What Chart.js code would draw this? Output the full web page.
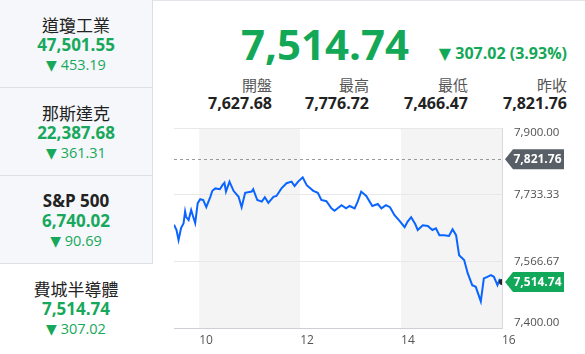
<!DOCTYPE html>
<html>
<head>
<meta charset="utf-8">
<script src="https://cdn.jsdelivr.net/npm/chart.js@4.4.0/dist/chart.umd.min.js"></script>
<style>
  html, body { margin:0; padding:0; background:#fff; }
  body { width:585px; height:354px; position:relative; overflow:hidden;
         font-family:'Open Sans','Noto Sans CJK TC',sans-serif; }
  .topline { position:absolute; left:0; top:0; width:585px; height:1px; background:#e3e5ea; }
  .box { position:absolute; left:0; width:153px; height:88px; background:#f5f7fa;
         border-right:1px solid #dcdfe5; border-bottom:1px solid #dcdfe5; box-sizing:border-box; }
  .box.sel { background:#fff; border:none; width:153px; }
  .box div { position:absolute; left:0; width:152px; text-align:center; white-space:nowrap; }
  .t { top:13px; height:24px; line-height:24px; font-size:17px; color:#222;
       font-family:'Noto Sans CJK TC','Open Sans',sans-serif; }
  .t.lat { font-family:'Open Sans',sans-serif; font-weight:700; font-size:17px; }
  .v { top:34px; height:22px; line-height:22px; font-size:17px; font-weight:700; color:#17a85c; }
  .c { top:55px; height:20px; line-height:20px; font-size:14.5px; color:#17a85c; }
  .tri { font-family:'DejaVu Sans',sans-serif; font-size:14px; }
  .big { position:absolute; left:220px; width:210px; text-align:center; top:22px; height:44px; line-height:44px;
         font-size:42px; font-weight:700; color:#13a858; }
  .chg { position:absolute; right:18px; top:44px; height:18px; line-height:18px;
         font-size:16px; font-weight:700; color:#13a858; white-space:nowrap; }
  .lab { position:absolute; top:77px; height:16px; line-height:16px; font-size:15px; color:#555;
         font-family:'Noto Sans CJK TC',sans-serif; text-align:right; width:90px; }
  .val { position:absolute; top:94px; height:18px; line-height:18px; font-size:16px; font-weight:700; color:#222;
         text-align:right; width:90px; }
  #wrap { position:absolute; left:170px; top:120px; width:415px; height:234px; }
</style>
</head>
<body>
<div class="topline"></div>
<div id="panel"></div>
<div class="big" id="big"></div>
<div class="chg" id="chg"></div>
<div id="stats"></div>
<div id="wrap"><canvas id="c" width="415" height="234"></canvas></div>
<script>
// ---- data ----
const indexNames = ['道瓊工業', '那斯達克', 'S&P 500', '費城半導體'];
const indexValues = ['47,501.55', '22,387.68', '6,740.02', '7,514.74'];
const indexChanges = ['453.19', '361.31', '90.69', '307.02'];

const lastText = '7,514.74';
const changeText = '307.02 (3.93%)';
const statLabels = ['開盤', '最高', '最低', '昨收'];
const statValues = ['7,627.68', '7,776.72', '7,466.47', '7,821.76'];

const times = [9.50, 9.55, 9.59, 9.64, 9.69, 9.72, 9.74, 9.79, 9.84, 9.88, 9.92, 9.97, 10.02, 10.08, 10.14, 10.22,
  10.26, 10.32, 10.41, 10.46, 10.50, 10.53, 10.60, 10.68, 10.78, 10.84, 10.91, 11.04, 11.07, 11.15, 11.24,
  11.30, 11.37, 11.47, 11.53, 11.63, 11.73, 11.83, 11.89, 11.96, 12.05, 12.13, 12.26, 12.35, 12.42, 12.52,
  12.62, 12.68, 12.82, 12.91, 12.98, 13.08, 13.14, 13.21, 13.31, 13.43, 13.54, 13.61, 13.70, 13.78, 13.87,
  13.97, 14.07, 14.13, 14.20, 14.28, 14.33, 14.43, 14.53, 14.62, 14.69, 14.76, 14.85, 14.95, 15.02, 15.09,
  15.15, 15.25, 15.32, 15.41, 15.48, 15.58, 15.64, 15.71, 15.78, 15.84, 15.91, 15.95, 16.00];
const values = [7658, 7645, 7620, 7650, 7662, 7691, 7678, 7670, 7695, 7678, 7662, 7712, 7722, 7720, 7702, 7728,
  7743, 7749, 7747, 7757, 7763, 7741, 7766, 7743, 7728, 7702, 7738, 7741, 7747, 7720, 7716,
  7727, 7713, 7728, 7730, 7749, 7762, 7766, 7755, 7766, 7776.72, 7757, 7743, 7738, 7720, 7717,
  7699, 7693, 7707, 7699, 7705, 7699, 7716, 7741, 7730, 7705, 7710, 7699, 7707, 7702, 7682,
  7668, 7652, 7666, 7677, 7660, 7645, 7657, 7655, 7645, 7649, 7632, 7632, 7630, 7647, 7632,
  7582, 7570, 7537, 7507, 7503, 7466.47, 7524, 7528, 7532, 7528, 7507, 7520, 7514.74];

const prevClose = 7821.76;
const lastValue = 7514.74;
const yTickValues = [7400, 7566.67, 7733.33, 7900];
const yTickLabels = ['7,400.00', '7,566.67', '7,733.33', '7,900.00'];
const xTickValues = [10, 12, 14, 16];
const shadedRanges = [[10, 12], [14, 16]];

// ---- page text ----
const panel = document.getElementById('panel');
indexNames.forEach((n, i) => {
  const b = document.createElement('div');
  b.className = 'box' + (i === 3 ? ' sel' : '');
  b.style.top = (i * 88) + 'px';
  const isLat = /^[A-Za-z]/.test(n);
  b.innerHTML = '<div class="t' + (isLat ? ' lat' : '') + '">' + n.replace('&', '&amp;') + '</div>' +
    '<div class="v">' + indexValues[i] + '</div>' +
    '<div class="c"><span class="tri">▼</span> ' + indexChanges[i] + '</div>';
  panel.appendChild(b);
});
document.getElementById('big').textContent = lastText;
document.getElementById('chg').innerHTML = '<span class="tri" style="font-size:16px">▼</span> ' + changeText;
const statRight = [272, 369, 468, 567];
const stats = document.getElementById('stats');
statLabels.forEach((l, i) => {
  const a = document.createElement('div');
  a.className = 'lab'; a.textContent = l; a.style.left = (statRight[i] - 90) + 'px';
  const v = document.createElement('div');
  v.className = 'val'; v.textContent = statValues[i]; v.style.left = (statRight[i] - 90) + 'px';
  stats.appendChild(a); stats.appendChild(v);
});

// ---- chart ----
Chart.defaults.font.family = "'Open Sans', sans-serif";
const fmt = v => v.toLocaleString('en-US', {minimumFractionDigits: 2, maximumFractionDigits: 2});

const bandPlugin = {
  id: 'bands',
  beforeDraw(chart) {
    const {ctx, chartArea: a, scales: {x}} = chart;
    ctx.save();
    ctx.fillStyle = '#f4f4f4';
    shadedRanges.forEach(([s, e]) => {
      const x0 = x.getPixelForValue(s), x1 = x.getPixelForValue(e);
      ctx.fillRect(x0, a.top, x1 - x0, a.bottom - a.top);
    });
    ctx.restore();
  },
  beforeDatasetsDraw(chart) {
    const {ctx, chartArea: a, scales: {y}} = chart;
    const py = Math.round(y.getPixelForValue(prevClose)) + 0.5;
    ctx.save();
    ctx.strokeStyle = '#9a9a9a';
    ctx.lineWidth = 1;
    ctx.setLineDash([3, 3]);
    ctx.beginPath(); ctx.moveTo(a.left, py); ctx.lineTo(a.right, py); ctx.stroke();
    ctx.restore();
  },
  afterDraw(chart) {
    const {ctx, chartArea: a, scales: {y}} = chart;
    const tag = (val, color) => {
      const cy = y.getPixelForValue(val);
      const tip = a.right + 3, bx = a.right + 11, bw = 51, h = 20;
      ctx.save();
      ctx.fillStyle = color;
      ctx.beginPath();
      ctx.moveTo(tip, cy);
      ctx.lineTo(bx, cy - h / 2);
      ctx.lineTo(bx + bw, cy - h / 2);
      ctx.lineTo(bx + bw, cy + h / 2);
      ctx.lineTo(bx, cy + h / 2);
      ctx.closePath();
      ctx.fill();
      ctx.fillStyle = '#fff';
      ctx.font = "bold 12px 'Open Sans', sans-serif";
      ctx.textAlign = 'center';
      ctx.textBaseline = 'middle';
      ctx.fillText(fmt(val), bx + bw / 2 - 1, cy + 0.5);
      ctx.restore();
    };
    tag(prevClose, '#595f66');
    tag(lastValue, '#12a85a');
  }
};

new Chart(document.getElementById('c'), {
  type: 'line',
  data: {
    datasets: [{
      data: times.map((t, i) => ({x: t, y: values[i]})),
      borderColor: '#0a64ff',
      borderWidth: 2,
      tension: 0,
      pointRadius: ctx => ctx.dataIndex === values.length - 1 ? 3 : 0,
      pointBackgroundColor: '#222',
      pointBorderWidth: 0,
      fill: false
    }]
  },
  options: {
    responsive: false,
    animation: false,
    events: [],
    layout: {padding: {left: 3, top: 8, right: 0, bottom: 0}},
    plugins: {legend: {display: false}, tooltip: {enabled: false}},
    scales: {
      x: {
        type: 'linear', min: 9.5, max: 16,
        afterBuildTicks: s => { s.ticks = xTickValues.map(v => ({value: v})); },
        afterFit: s => { s.height = 26; s.paddingLeft = 0; s.paddingRight = 0; },
        grid: {drawOnChartArea: false, drawTicks: false},
        border: {color: '#cfcfd6', width: 1},
        ticks: {align: 'start', padding: 5, color: '#555', font: {size: 12}, callback: v => String(v)}
      },
      y: {
        position: 'right', min: 7400, max: 7900,
        afterBuildTicks: s => { s.ticks = yTickValues.map(v => ({value: v})); },
        afterFit: s => { s.width = 83; s.paddingTop = 0; s.paddingBottom = 0; },
        grid: {color: '#e8e8ea', drawTicks: false},
        border: {color: '#d8d9e0', width: 1},
        ticks: {
          padding: 12, color: '#505050',
          font: ctx => ({size: 11.5, lineHeight: (ctx.index === 0 || ctx.index === yTickValues.length - 1) ? 0.9 : 1.2}),
          callback: (v, i) => i === 0 ? [yTickLabels[i], ''] : (i === yTickValues.length - 1 ? ['', yTickLabels[i]] : yTickLabels[i])
        }
      }
    }
  },
  plugins: [bandPlugin]
});
</script>
</body>
</html>
